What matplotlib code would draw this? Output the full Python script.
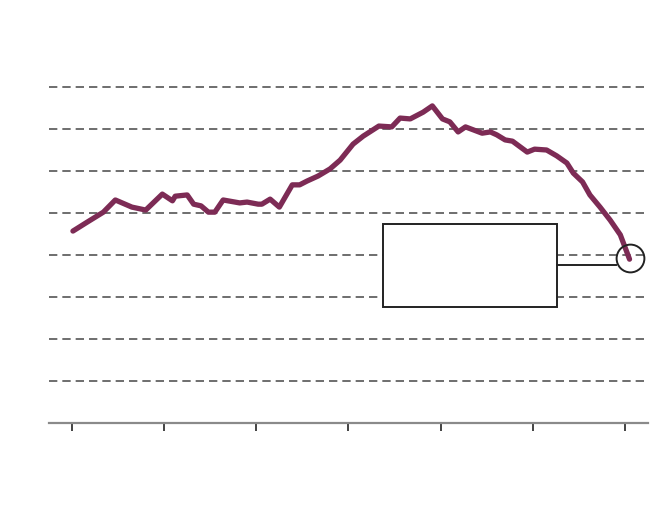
import matplotlib
matplotlib.use("Agg")
import matplotlib.pyplot as plt
from matplotlib.patches import Rectangle

# series (x: tick units, y: gridline units)
xs = [0.01, 0.17, 0.34, 0.47, 0.65, 0.80, 0.98, 1.09, 1.12, 1.25, 1.32, 1.40,
      1.48, 1.55, 1.64, 1.82, 1.90, 2.02, 2.06, 2.15, 2.25, 2.39, 2.47, 2.55,
      2.67, 2.80, 2.91, 3.05, 3.16, 3.33, 3.47, 3.56, 3.67, 3.81, 3.91, 4.02,
      4.10, 4.19, 4.27, 4.45, 4.54, 4.61, 4.70, 4.78, 4.94, 5.02, 5.15, 5.26,
      5.37, 5.44, 5.54, 5.62, 5.73, 5.84, 5.95, 6.05]
ys = [4.57, 4.79, 5.02, 5.31, 5.14, 5.07, 5.45, 5.29, 5.40, 5.43, 5.21, 5.17,
      5.02, 5.02, 5.31, 5.24, 5.26, 5.21, 5.21, 5.33, 5.14, 5.67, 5.67, 5.76,
      5.88, 6.05, 6.26, 6.64, 6.83, 7.07, 7.05, 7.26, 7.24, 7.40, 7.55, 7.24,
      7.17, 6.93, 7.05, 6.90, 6.93, 6.86, 6.74, 6.71, 6.45, 6.52, 6.50, 6.36,
      6.19, 5.95, 5.74, 5.43, 5.14, 4.83, 4.48, 3.90]

grid_levels = [1, 2, 3, 4, 5, 6, 7, 8]
tick_pos = [0, 1, 2, 3, 4, 5, 6]

fig = plt.figure(figsize=(6.7, 5.18), dpi=100)
ax = fig.add_axes([0.0731, 0.1834, 0.8940, 0.6892])
ax.set_xlim(-0.25, 6.25)
ax.set_ylim(0, 8.5)

for lvl in grid_levels:
    ax.axhline(lvl, color='#555555', lw=1.2, linestyle=(0, (5, 3)), zorder=1)

ax.plot(xs, ys, color='#7d2b55', lw=3.8, solid_capstyle='round',
        solid_joinstyle='round', zorder=3)

# annotation box and pointer to last value
ax.add_patch(Rectangle((3.374, 2.762), 1.888, 1.976, facecolor='white',
                       edgecolor='#222222', lw=1.4, zorder=4))
ax.plot([5.262, 5.90], [3.762, 3.762], color='#222222', lw=1.4, zorder=4)
ax.plot([xs[-1]], [ys[-1] + 0.02], marker='o', ms=20, mfc='none',
        mec='#222222', mew=1.4, zorder=5)

for s in ['top', 'right', 'left']:
    ax.spines[s].set_visible(False)
ax.spines['bottom'].set_color('#8a8a8a')
ax.spines['bottom'].set_linewidth(1.6)
ax.set_yticks([])
ax.set_xticks(tick_pos)
ax.set_xticklabels([])
ax.tick_params(axis='x', direction='out', length=6, width=1.2, color='#222222')

fig.savefig('out.png', dpi=100)
